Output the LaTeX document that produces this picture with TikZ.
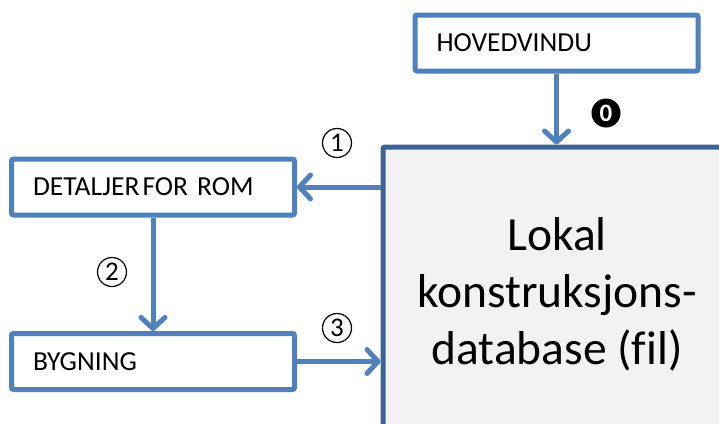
\documentclass[tikz,border=0pt]{standalone}
\usepackage{fontspec}
\setmainfont{Carlito}[Ligatures=NoCommon]
\usetikzlibrary{arrows.meta}
\definecolor{lblue}{HTML}{4F81BD}
\definecolor{dblue}{HTML}{3D6491}
\definecolor{dbfill}{HTML}{F2F2F2}
\tikzset{
  smallbox/.style={draw=lblue, line width=5pt, fill=white, rounded corners=2pt,
    minimum width=283pt, minimum height=56pt, text width=240pt, inner xsep=21.5pt,
    inner ysep=0pt, align=left, font=\fontsize{27.5}{32}\selectfont},
  dbbox/.style={draw=dblue, line width=5pt, fill=dbfill, rounded corners=2pt,
    minimum width=348pt, minimum height=294pt, align=center, inner sep=0pt,
    font=\fontsize{47.5}{57}\selectfont},
  conn/.style={draw=lblue, line width=5pt,
    -{Straight Barb[length=11pt,width=24pt,round]}},
  numcirc/.style={circle, draw=black, line width=1.2pt, minimum size=29pt,
    inner sep=0pt, font=\fontsize{27}{27}\selectfont},
  badge/.style={circle, fill=black, text=white, minimum size=29pt,
    inner sep=0pt, font=\bfseries\fontsize{25}{25}\selectfont}
}
\begin{document}
\begin{tikzpicture}[x=1pt,y=-1pt]
\clip (0,0) rectangle (719,423);
\fill[white] (0,0) rectangle (719,423);
\node[dbbox] (db) at (557,294) {Lokal\\konstruksjons-\\database (fil)};
\node[smallbox] (hoved) at (556.5,43) {HOVEDVINDU};
\node[smallbox] (detaljer) at (153,187) {DETALJER\hspace{3pt}FOR ROM};
\node[smallbox] (bygning) at (153,361.5) {BYGNING};
\draw[conn] (hoved.south) -- (hoved.south |- db.north);
\draw[conn] (db.west |- detaljer.east) -- (detaljer.east);
\draw[conn] (detaljer.south) -- (bygning.north);
\draw[conn] (bygning.east) -- (bygning.east -| db.west);
\node[badge] (n0) at (606,113) {0};
\node[numcirc] (n1) at (337,143) {1};
\node[numcirc] (n2) at (112,272) {2};
\node[numcirc] (n3) at (337,328) {3};
\end{tikzpicture}
\end{document}
